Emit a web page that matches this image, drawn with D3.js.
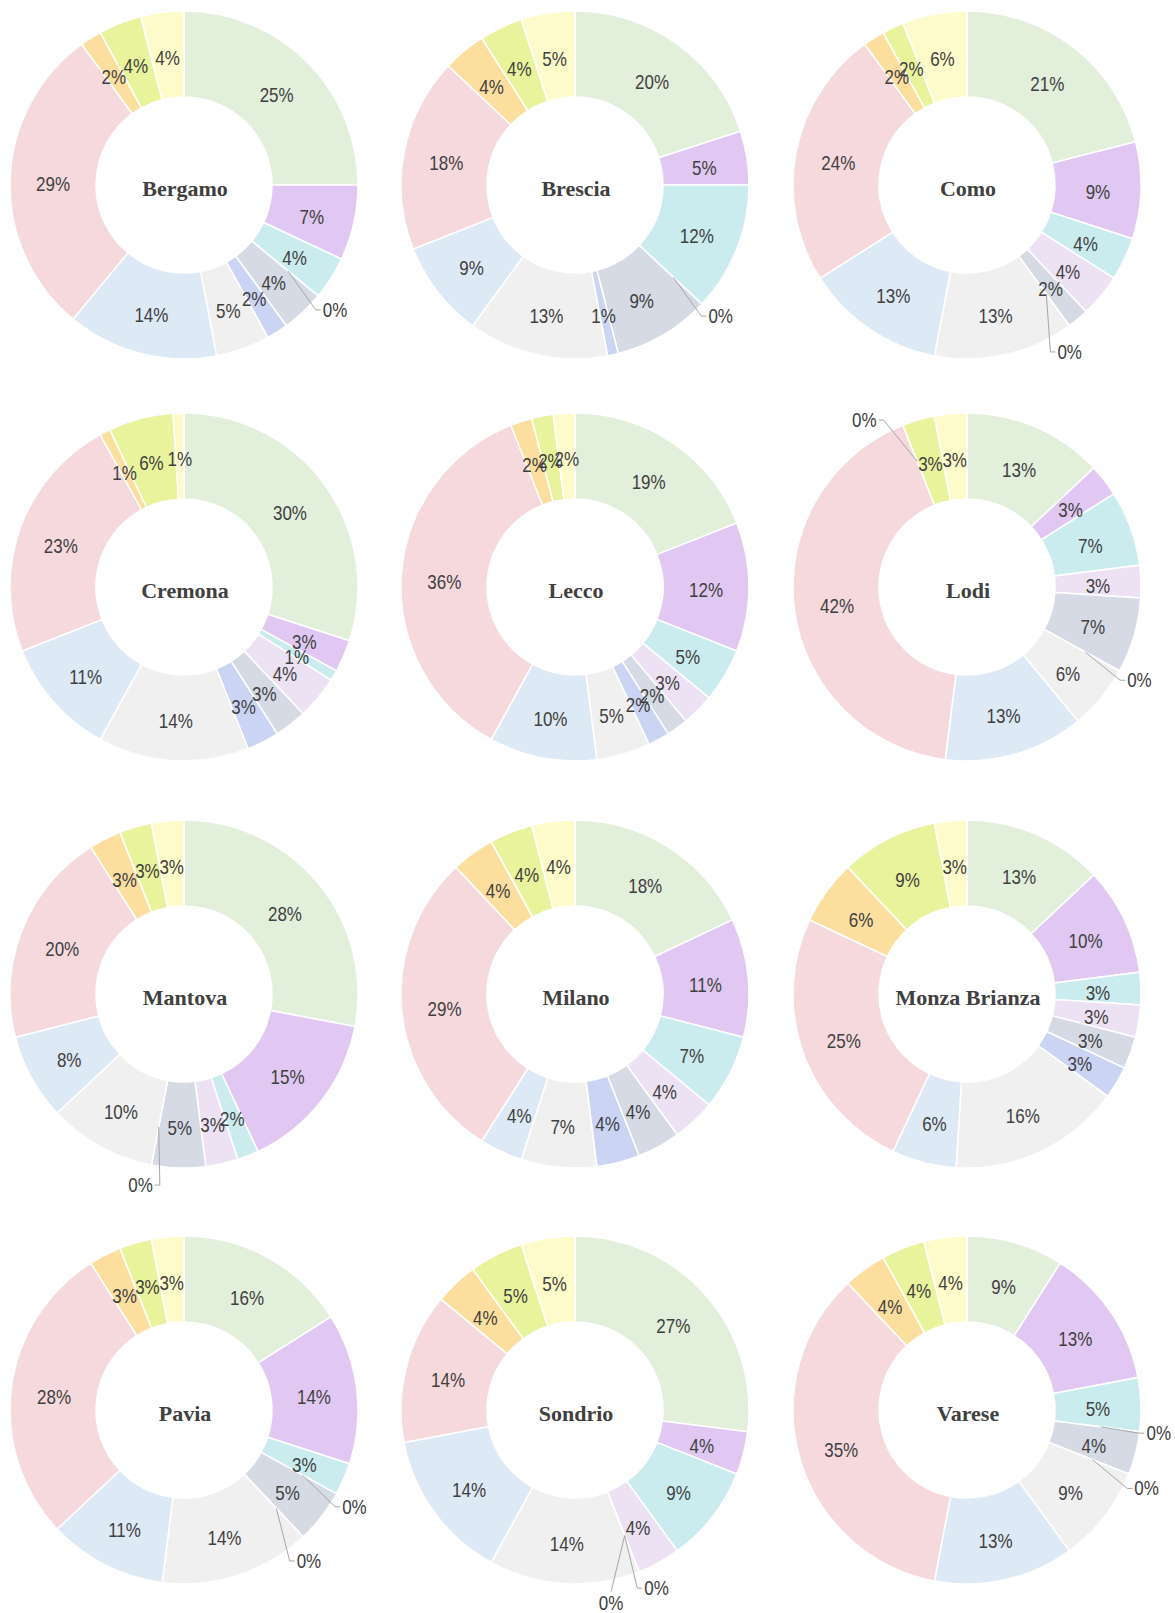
<!DOCTYPE html>
<html>
<head>
<meta charset="utf-8">
<script src="https://cdn.jsdelivr.net/npm/d3@7"></script>
<style>
  body { margin: 0; background: #fff; }
</style>
</head>
<body>
<script>
// province names, in the order they appear (3 per row)
var provinces = ["Bergamo", "Brescia", "Como", "Cremona", "Lecco", "Lodi",
                 "Mantova", "Milano", "Monza Brianza", "Pavia", "Sondrio", "Varese"];

// shares (%) per slice, clockwise from 12 o'clock
var bergamo  = [25, 7, 4, 0, 4, 2, 5, 14, 29, 2, 4, 4];
var brescia  = [20, 5, 12, 0, 9, 1, 13, 9, 18, 4, 4, 5];
var como     = [21, 9, 4, 4, 2, 0, 13, 13, 24, 2, 2, 6];
var cremona  = [30, 3, 1, 4, 3, 3, 14, 11, 23, 1, 6, 1];
var lecco    = [19, 12, 5, 3, 2, 2, 5, 10, 36, 2, 2, 2];
var lodi     = [13, 3, 7, 3, 7, 0, 6, 13, 42, 0, 3, 3];
var mantova  = [28, 15, 2, 3, 5, 0, 10, 8, 20, 3, 3, 3];
var milano   = [18, 11, 7, 4, 4, 4, 7, 4, 29, 4, 4, 4];
var monza    = [13, 10, 3, 3, 3, 3, 16, 6, 25, 6, 9, 3];
var pavia    = [16, 14, 3, 0, 5, 0, 14, 11, 28, 3, 3, 3];
var sondrio  = [27, 4, 9, 4, 0, 0, 14, 14, 14, 4, 5, 5];
var varese   = [9, 13, 5, 0, 4, 0, 9, 13, 35, 4, 4, 4];

var provinceValues = [bergamo, brescia, como, cremona, lecco, lodi,
                      mantova, milano, monza, pavia, sondrio, varese];

var colors = ["#e2efdb", "#e1c8f2", "#caecee", "#ece2f4", "#d5dae5", "#ccd4f4",
              "#f0f0f0", "#dde9f5", "#f5d9dc", "#fcdf9f", "#e8f39c", "#fefbca"];

// layout
var width = 1175;
var height = 1613;
var colX = [184, 575, 967];
var rowY = [185, 587, 994, 1410];
var innerR = 88;
var outerR = 174;
var midR = (innerR + outerR) / 2;
var zeroR = 196;
var labelColor = "#404040";
var labelSize = 20;
var labelSquash = 0.85;

var svg = d3.select("body").append("svg")
	.attr("width", width)
	.attr("height", height)
	.style("background", "#fff");

var pie = d3.pie().sort(null).value(function (d) { return d; });
var arc = d3.arc().innerRadius(innerR).outerRadius(outerR);
var labelArc = d3.arc().innerRadius(midR).outerRadius(midR);

function polar(r, a)
{
	return [r * Math.sin(a), -r * Math.cos(a)];
}

function addLabel(g, x, y, txt)
{
	g.append("text")
		.attr("transform", "translate(" + x + "," + y + ") scale(" + labelSquash + ",1)")
		.attr("text-anchor", "middle")
		.attr("dy", "0.35em")
		.style("font-family", "'Liberation Sans', Arial, sans-serif")
		.style("font-size", labelSize + "px")
		.style("fill", labelColor)
		.text(txt);
}

function drawDonut(name, values, i)
{
	var cx = colX[i % 3];
	var cy = rowY[Math.floor(i / 3)];
	var g = svg.append("g")
		.attr("transform", "translate(" + cx + "," + cy + ")");

	var slices = pie(values);

	g.selectAll("path")
		.data(slices)
		.enter()
		.append("path")
		.attr("d", arc)
		.attr("fill", function (d, j) { return colors[j]; })
		.attr("stroke", "#fff")
		.attr("stroke-width", 1.5);

	// labels inside the ring
	slices.forEach(function (d) {
		if (d.data === 0) return;
		var c = labelArc.centroid(d);
		addLabel(g, c[0], c[1] + 3, d.data + "%");
	});

	// zero slices get a label outside with a leader line
	var n = values.length;
	for (var j = 0; j < n; j++)
	{
		if (values[j] !== 0) continue;
		var b = j - 1;
		while (values[(b + n) % n] === 0) b--;
		var f = j + 1;
		while (values[f % n] === 0) f++;
		var before = values[(b + n) % n];
		var after = values[f % n];
		var groupSize = f - b - 1;

		var a0 = slices[j].startAngle;
		var shift = Math.max(-10, Math.min(10, 0.4 * (after - before)));
		var spread = (j - (b + 1) - (groupSize - 1) / 2) * 14;
		var a = a0 + (shift + spread) * Math.PI / 180;

		var txt = values[j] + "%";
		var halfW = 1.445 * labelSize * labelSquash / 2;
		var c = polar(zeroR, a);
		// keep the text inside the picture
		c[0] = Math.min(c[0], width - 4 - halfW - cx);
		c[0] = Math.max(c[0], 4 + halfW - cx);

		var p0 = polar(midR + 4, a0);
		var p1, p2;
		if (Math.abs(Math.cos(a)) > 0.98)
		{
			var vs = Math.cos(a) > 0 ? 1 : -1;
			p2 = [c[0], c[1] + vs * 11];
			p1 = p2;
		}
		else
		{
			var side = Math.sin(a) >= 0 ? 1 : -1;
			p2 = [c[0] - side * (halfW + 2), c[1]];
			p1 = [p2[0] - side * 5, c[1]];
		}

		g.append("polyline")
			.attr("points", [p0, p1, p2].map(function (p) { return p.join(","); }).join(" "))
			.attr("fill", "none")
			.attr("stroke", "#a6a6a6")
			.attr("stroke-width", 1);

		addLabel(g, c[0], c[1], txt);
	}

	// province name in the hole
	g.append("text")
		.attr("x", 1)
		.attr("y", 11)
		.attr("text-anchor", "middle")
		.style("font-family", "'Liberation Serif', 'Times New Roman', serif")
		.style("font-weight", "bold")
		.style("font-size", "22px")
		.style("fill", labelColor)
		.text(name);
}

provinces.forEach(function (name, i) {
	drawDonut(name, provinceValues[i], i);
});
</script>
</body>
</html>
